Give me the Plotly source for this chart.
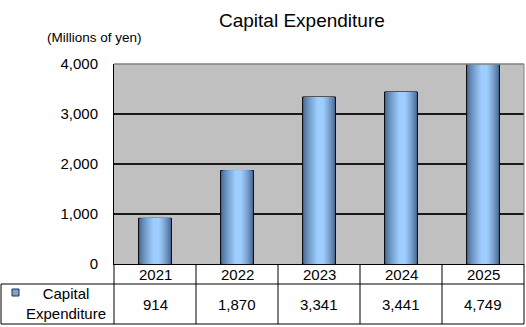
import plotly.graph_objects as go

years = ["2021", "2022", "2023", "2024", "2025"]
capex = [914, 1870, 3341, 3441, 4749]
series_name = "Capital Expenditure"
y_ticks = [0, 1000, 2000, 3000, 4000]

FONT = "Liberation Sans"

# plot area geometry (pixels)
W, H = 526, 327
L, R, T, B = 114, 524, 64, 264

def px_x(px):
    return (px - L) / (R - L)

def px_y(py):
    return (B - py) / (B - T)

fig = go.Figure()

# layered bars to imitate the horizontal gradient
N = 14
BAR_W = 0.40
PEAK = 0.55
dark = (72, 104, 145)
light = (158, 206, 255)
for k in range(N):
    f = k / (N - 1)
    c = tuple(int(dark[i] + (light[i] - dark[i]) * (f ** 0.8)) for i in range(3))
    ul = PEAK * f * 0.8
    ur = 1 - (1 - PEAK) * f * 0.8
    fig.add_trace(go.Bar(
        x=years, y=capex, width=BAR_W * (ur - ul), offset=-BAR_W / 2 + BAR_W * ul,
        marker=dict(color="rgb(%d,%d,%d)" % c,
                    line=dict(color="black" if k == 0 else "rgba(0,0,0,0)",
                              width=1 if k == 0 else 0)),
        showlegend=False, hoverinfo="skip" if k else "y",
        name=series_name,
    ))

n = len(years)
fig.update_layout(
    width=W, height=H,
    margin=dict(l=L, r=W - R, t=T, b=H - B, pad=0),
    barmode="overlay",
    paper_bgcolor="white",
    plot_bgcolor="#C0C0C0",
    font=dict(family=FONT, color="black"),
    showlegend=False,
)
fig.update_xaxes(type="category", range=[-0.5, n - 0.5], showticklabels=False, showgrid=False,
                 showline=True, linecolor="black", linewidth=1, ticks="")
fig.update_yaxes(range=[0, 4000], tickvals=y_ticks, tickformat=",",
                 showgrid=True, gridcolor="#1a1a1a", gridwidth=1.5,
                 showline=True, linecolor="black", linewidth=1,
                 ticks="outside", ticklen=12, tickcolor="rgba(0,0,0,0)",
                 tickfont=dict(family=FONT, size=15, color="black"),
                 zeroline=False)

shapes = []
line = dict(color="black", width=1)
# top & right gray border
shapes.append(dict(type="line", xref="paper", yref="paper", x0=0, x1=1, y0=1, y1=1,
                   line=dict(color="#808080", width=1.5), layer="above"))
shapes.append(dict(type="line", xref="paper", yref="paper", x0=1, x1=1, y0=0, y1=1,
                   line=dict(color="#808080", width=1), layer="above"))
# table
xl = px_x(1)
y_row1 = px_y(284)
y_row2 = px_y(324)
shapes.append(dict(type="line", xref="paper", yref="paper", x0=xl, x1=1, y0=y_row1, y1=y_row1, line=line))
shapes.append(dict(type="line", xref="paper", yref="paper", x0=xl, x1=1, y0=y_row2, y1=y_row2, line=line))
shapes.append(dict(type="line", xref="paper", yref="paper", x0=xl, x1=xl, y0=y_row1, y1=y_row2, line=line))
for k in range(n + 1):
    xk = k / n
    shapes.append(dict(type="line", xref="paper", yref="paper", x0=xk, x1=xk, y0=0, y1=y_row2, line=line))
# legend key
shapes.append(dict(type="rect", xref="paper", yref="paper",
                   x0=px_x(12), x1=px_x(19), y0=px_y(296), y1=px_y(289),
                   fillcolor="rgb(120,165,215)", line=dict(color="#203040", width=1)))
fig.update_layout(shapes=shapes)

ann = []
for i, (yr, v) in enumerate(zip(years, capex)):
    xc = (i + 0.5) / n
    ann.append(dict(x=xc, xref="paper", y=px_y(274), yref="paper", text=yr, showarrow=False,
                    font=dict(family=FONT, size=15, color="black"), xanchor="center", yanchor="middle"))
    ann.append(dict(x=xc, xref="paper", y=px_y(304), yref="paper", text=f"{v:,}", showarrow=False,
                    font=dict(family=FONT, size=15, color="black"), xanchor="center", yanchor="middle"))
ann.append(dict(x=px_x(66), xref="paper", y=px_y(303), yref="paper",
                text="Capital<br>Expenditure", showarrow=False, align="center",
                font=dict(family=FONT, size=15, color="black"), xanchor="center", yanchor="middle"))
ann.append(dict(x=px_x(302), xref="paper", y=px_y(21), yref="paper", text=series_name,
                showarrow=False, font=dict(family=FONT, size=19, color="black"),
                xanchor="center", yanchor="middle"))
ann.append(dict(x=px_x(94), xref="paper", y=px_y(37), yref="paper", text="(Millions of yen)",
                showarrow=False, font=dict(family=FONT, size=13.5, color="black"),
                xanchor="center", yanchor="middle"))
fig.update_layout(annotations=ann)

fig.write_html("out.html")
